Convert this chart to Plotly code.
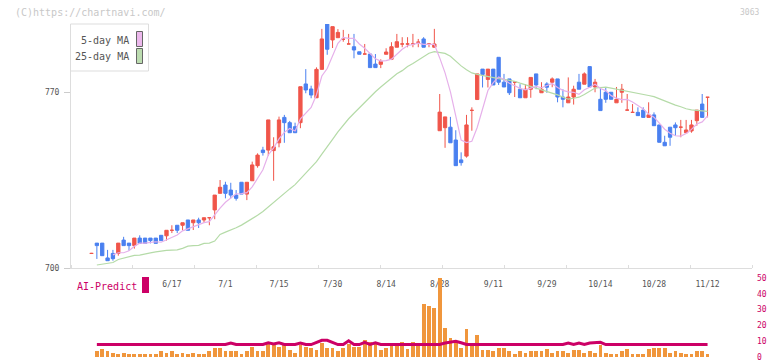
import numpy as np
import pandas as pd
import plotly.graph_objects as go

# ---------------- data ----------------
opens = [705.8, 709.9, 709.9, 704.0, 705.8, 705.8, 711.1, 709.9, 708.9, 711.9,
         711.9, 711.9, 711.9, 713.0, 712.8, 715.0, 717.0, 717.0, 719.1, 718.0,
         719.1, 719.1, 720.0, 723.1, 729.7, 733.0, 731.0, 729.0, 734.1, 729.4,
         734.7, 740.7, 746.9, 746.9, 746.7, 749.8, 759.9, 757.8, 756.2, 757.8,
         773.2, 771.2, 767.7, 779.0, 797.0, 790.7, 791.6, 791.0, 789.1, 788.0,
         786.0, 785.1, 785.1, 781.1, 781.0, 785.0, 783.0, 787.8, 789.1, 789.1,
         789.1, 789.8, 791.1, 789.1, 787.8, 754.6, 755.8, 756.0, 750.9, 743.0,
         744.5, 762.7, 767.0, 779.1, 775.0, 779.1, 783.8, 773.9, 775.2, 773.9,
         771.1, 767.7, 771.1, 777.2, 769.7, 773.2, 773.9, 775.2, 768.0, 765.7,
         768.0, 773.9, 773.1, 780.1, 772.0, 767.1, 769.9, 769.9, 765.7, 769.9,
         762.8, 761.9, 761.9, 762.8, 759.9, 760.9, 756.9, 750.0, 756.0, 756.9,
         756.0, 753.8, 754.5, 758.6, 765.2, 767.9]
highs = [706.0, 709.9, 709.9, 707.2, 707.2, 709.9, 712.4, 709.9, 711.9, 713.0,
         711.9, 711.9, 711.9, 713.0, 715.0, 717.0, 717.0, 718.0, 719.1, 719.1,
         720.0, 720.0, 720.0, 729.0, 735.0, 734.3, 733.9, 731.0, 734.1, 734.1,
         742.3, 745.6, 748.2, 758.9, 752.0, 760.2, 760.9, 758.5, 757.8, 772.1,
         779.1, 772.5, 779.8, 795.1, 797.0, 796.0, 795.0, 794.7, 793.1, 793.1,
         786.0, 789.1, 785.1, 785.1, 783.0, 787.4, 789.8, 793.1, 791.8, 791.8,
         793.1, 791.1, 791.8, 789.5, 795.1, 769.2, 760.1, 760.1, 754.8, 746.0,
         760.9, 763.9, 777.2, 779.1, 779.1, 779.1, 783.8, 777.2, 775.2, 773.9,
         773.1, 773.1, 775.8, 777.2, 773.9, 773.9, 775.8, 775.2, 771.1, 775.8,
         772.5, 777.2, 777.8, 780.1, 775.2, 772.0, 772.0, 769.9, 772.0, 773.2,
         769.2, 765.2, 763.9, 763.9, 765.9, 761.9, 756.9, 752.6, 756.0, 757.9,
         758.9, 758.9, 758.9, 762.8, 769.2, 767.9]
lows = [705.6, 703.6, 704.9, 702.9, 702.9, 704.9, 708.9, 706.9, 707.7, 709.8,
        709.8, 709.8, 709.8, 710.9, 710.9, 713.9, 713.9, 715.0, 715.0, 715.1,
        715.9, 718.0, 717.0, 719.4, 729.7, 727.7, 727.7, 726.8, 729.4, 727.0,
        734.7, 739.9, 744.7, 744.7, 734.7, 748.0, 749.8, 753.8, 753.8, 755.6,
        769.5, 767.5, 767.7, 779.0, 784.8, 787.5, 791.6, 790.0, 789.1, 783.4,
        785.0, 785.1, 779.7, 779.7, 779.5, 785.0, 782.7, 787.8, 787.8, 787.8,
        787.8, 787.8, 787.8, 787.8, 787.8, 754.6, 747.8, 749.8, 740.7, 740.7,
        743.9, 754.6, 767.0, 771.8, 771.8, 772.8, 772.8, 772.0, 768.8, 768.0,
        767.7, 767.7, 767.7, 771.1, 769.7, 769.7, 771.9, 765.9, 763.9, 765.7,
        765.0, 771.1, 773.1, 772.0, 769.9, 762.6, 765.7, 767.1, 765.7, 765.7,
        762.8, 761.9, 760.6, 759.9, 759.9, 756.6, 750.0, 748.6, 748.6, 752.6,
        752.0, 753.8, 753.8, 756.6, 759.9, 759.9]
closes = [705.8, 708.9, 704.9, 702.9, 703.7, 709.9, 708.9, 708.9, 711.9, 709.8,
          709.8, 710.9, 709.8, 710.9, 715.0, 715.0, 715.0, 718.0, 715.0, 719.1,
          718.0, 720.0, 720.0, 729.0, 732.1, 729.7, 729.0, 727.7, 729.4, 734.1,
          741.0, 744.9, 745.9, 758.9, 748.2, 758.9, 757.8, 753.8, 753.8, 772.1,
          770.8, 768.8, 779.0, 791.1, 787.0, 796.0, 793.7, 791.0, 789.1, 786.7,
          785.0, 785.1, 779.7, 779.7, 782.1, 785.9, 788.0, 790.0, 789.1, 789.1,
          789.1, 789.8, 787.8, 789.1, 789.1, 762.0, 760.1, 749.8, 740.7, 741.9,
          756.9, 762.7, 777.2, 777.0, 779.1, 772.8, 773.9, 772.0, 769.7, 773.9,
          767.7, 771.1, 775.8, 772.8, 771.1, 771.9, 775.2, 768.0, 767.1, 768.0,
          771.1, 771.1, 777.2, 772.0, 773.9, 762.6, 767.1, 767.1, 767.1, 771.1,
          762.8, 761.9, 760.6, 759.9, 760.9, 756.6, 750.0, 748.6, 752.0, 755.8,
          756.0, 754.9, 756.9, 762.8, 759.9, 767.9]
volumes = [0, 3.5, 4.9, 4.1, 2.6, 2.2, 2.8, 2.2, 2.2, 2.2,
           1.6, 2.2, 2.2, 4.1, 2.8, 4.1, 2.2, 2.8, 1.6, 2.8,
           2.2, 2.2, 3.5, 6.0, 6.0, 3.5, 3.5, 3.5, 2.2, 4.1,
           6.6, 4.1, 3.5, 9.7, 9.1, 6.6, 7.9, 4.7, 2.8, 7.9,
           6.6, 6.0, 4.7, 9.1, 6.0, 6.0, 4.1, 6.0, 8.5, 6.6,
           6.6, 11.0, 9.7, 8.5, 4.7, 6.0, 7.0, 7.0, 9.7, 5.3,
           9.7, 9.1, 33.6, 32.2, 31.1, 50.0, 18.6, 12.3, 9.1, 6.0,
           17.9, 7.0, 14.2, 4.7, 4.7, 3.5, 6.0, 6.0, 4.1, 2.2,
           3.5, 2.8, 4.1, 3.5, 3.5, 5.3, 2.8, 4.1, 4.1, 2.8,
           4.7, 4.7, 2.8, 3.5, 2.8, 7.9, 2.8, 2.2, 2.2, 3.5,
           5.3, 2.2, 2.2, 2.2, 5.3, 6.0, 6.0, 6.0, 2.8, 3.5,
           2.8, 1.6, 1.6, 4.1, 3.5, 2.2]
ai_predict = [None, 7.9, 7.9, 7.9, 7.9, 7.9, 7.9, 7.9, 7.9, 7.9,
              7.9, 7.9, 7.9, 7.9, 7.9, 7.9, 7.9, 7.9, 7.9, 7.9,
              7.9, 7.9, 7.9, 7.9, 7.9, 7.9, 8.9, 7.9, 7.9, 7.9,
              7.9, 7.9, 7.9, 9.0, 8.3, 9.0, 7.9, 7.9, 7.9, 8.9,
              7.9, 7.9, 9.2, 10.6, 10.6, 9.3, 7.9, 7.9, 10.3, 7.9,
              7.9, 9.3, 7.9, 9.0, 7.9, 7.9, 7.9, 7.9, 7.9, 7.9,
              7.9, 7.9, 7.9, 7.9, 7.9, 7.9, 8.9, 9.5, 10.0, 9.0,
              7.9, 7.9, 7.9, 7.9, 7.9, 7.9, 7.9, 7.9, 7.9, 7.9,
              7.9, 7.9, 7.9, 7.9, 7.9, 7.9, 7.9, 7.9, 7.9, 8.9,
              7.9, 8.9, 7.9, 8.9, 8.9, 9.3, 7.9, 7.9, 7.9, 7.9,
              7.9, 7.9, 7.9, 7.9, 7.9, 7.9, 7.9, 7.9, 7.9, 7.9,
              7.9, 7.9, 7.9, 7.9, 7.9, 7.9]
# 25-day MA for the first days (needs history before the window)
ma25_head = [None, 701.2, 701.6, 701.8, 702.2, 703.4, 704.0, 704.6, 705.0, 705.1,
             705.4, 706.0, 706.4, 706.8, 707.0, 707.1, 707.2, 707.8, 708.7, 708.9,
             709.0, 709.8, 709.9, 710.7]
tick_labels = ["6/17", "7/1", "7/15", "7/30", "8/14", "8/28", "9/11", "9/29",
               "10/14", "10/28", "11/12"]
price_ticks = [700, 770]
volume_ticks = [0, 10, 20, 30, 40, 50]
jp_holidays = ["2025-07-21", "2025-08-11", "2025-09-15", "2025-09-23",
               "2025-10-13", "2025-11-03"]

# ---------------- derived ----------------
dates = pd.bdate_range("2025-05-27", "2025-11-12")
dates = dates[~dates.isin(pd.to_datetime(jp_holidays))]
date_str = [f"{d.month}/{d.day}" for d in dates]
n = len(closes)
idx = np.arange(n)
tickvals = [date_str.index(t) for t in tick_labels if t in date_str]

cl = pd.Series(closes)
ma5 = cl.rolling(5).mean()
ma25 = cl.rolling(25).mean()
for i, v in enumerate(ma25_head):
    ma25.iloc[i] = np.nan if v is None else v

up = [c >= o for o, c in zip(opens, closes)]
RED = "#f0554a"
BLUE = "#4a80f0"

W, H = 772, 361
px0, px1 = 71, 752          # plot left/right pixel
ptop, pbot = 24, 268         # price panel top/bottom pixel
vtop, vbot = 278, 357        # volume panel
step = 5.357
first_px = 91.5
xr0 = (px0 - first_px) / step
xr1 = (px1 - first_px) / step
grid = np.linspace(xr0, xr1, 12)
pr = [700, 700 + (pbot - ptop) / 2.5143]


def sel(arr, mask):
    return [a for a, m in zip(arr, mask) if m]


fig = go.Figure()

fig.add_trace(go.Scatter(x=idx, y=ma25, mode="lines", line=dict(color="#b5dba8", width=1.2),
                         hoverinfo="skip", xaxis="x", yaxis="y"))
fig.add_trace(go.Scatter(x=idx, y=ma5, mode="lines", line=dict(color="#e6b0ea", width=1.2),
                         hoverinfo="skip", xaxis="x", yaxis="y"))

for mask, col in ((up, RED), ([not u for u in up], BLUE)):
    fig.add_trace(go.Candlestick(
        x=sel(idx, mask), open=sel(opens, mask), high=sel(highs, mask),
        low=sel(lows, mask), close=sel(closes, mask),
        increasing=dict(line=dict(color=col, width=1), fillcolor=col),
        decreasing=dict(line=dict(color=col, width=1), fillcolor=col),
        whiskerwidth=0, xaxis="x", yaxis="y", hoverinfo="skip"))

fig.add_trace(go.Bar(x=idx, y=volumes, marker=dict(color="#f0963c", line=dict(width=0)),
                     width=0.7, xaxis="x2", yaxis="y2", hoverinfo="skip"))
fig.add_trace(go.Scatter(x=idx, y=ai_predict, mode="lines", line=dict(color="#cc0066", width=3),
                         xaxis="x2", yaxis="y2", hoverinfo="skip"))

dom_x = [px0 / W, px1 / W]
font_mono = "DejaVu Sans Mono"
fig.update_layout(
    template="none",
    width=W, height=H, margin=dict(l=0, r=0, t=0, b=0, pad=0),
    paper_bgcolor="white", plot_bgcolor="rgba(0,0,0,0)",
    showlegend=False, boxgap=0.12, bargap=0, hovermode=False,
    font=dict(family=font_mono, size=8, color="#555555"),
    xaxis=dict(domain=dom_x, anchor="y", range=[xr0, xr1], tickmode="array",
               tickvals=tickvals, ticktext=[date_str[i] for i in tickvals],
               ticks="", showline=True, linecolor="#dddddd", linewidth=1,
               showgrid=False, zeroline=False, rangeslider=dict(visible=False),
               automargin=False, ticklabeloverflow="allow",
               ticklabelstandoff=8, tickfont=dict(size=8, color="#555555"),
               minor=dict(tickmode="array", tickvals=list(grid), ticks="inside",
                          ticklen=3, tickcolor="#dddddd", showgrid=False)),
    xaxis3=dict(overlaying="x", anchor="y", range=[xr0, xr1], tickmode="array",
                tickvals=list(grid), ticks="outside", ticklen=5, tickcolor="#dddddd",
                automargin=False,
                showticklabels=False, showline=False, showgrid=False, zeroline=False),
    yaxis=dict(domain=[1 - pbot / H, 1 - ptop / H], anchor="x", range=pr,
               tickmode="array", tickvals=price_ticks, ticks="outside", ticklen=6,
               tickcolor="#cccccc", showline=True, linecolor="#dddddd", linewidth=1,
               showgrid=False, zeroline=False, ticklabelstandoff=3, automargin=False,
               ticklabeloverflow="allow", tickfont=dict(size=8, color="#555555")),
    xaxis2=dict(domain=dom_x, anchor="y2", matches="x", showticklabels=False,
                ticks="", showline=False, showgrid=False, zeroline=False,
                automargin=False),
    yaxis2=dict(domain=[1 - vbot / H, 1 - vtop / H], anchor="x2", range=[0, 50],
                side="right", tickmode="array", tickvals=volume_ticks, ticks="",
                showline=False, showgrid=False, zeroline=False, ticklabelstandoff=4,
                automargin=False, ticklabeloverflow="allow",
                tickfont=dict(size=8, color="#cc0066")),
)


def py(p):
    return 1 - p / H


def pxx(p):
    return p / W


shapes = [
    dict(type="rect", xref="paper", yref="paper", x0=pxx(70.5), x1=pxx(148.5),
         y0=py(71), y1=py(24), line=dict(color="#dddddd", width=1), fillcolor="white"),
    dict(type="rect", xref="paper", yref="paper", x0=pxx(136.5), x1=pxx(142.5),
         y0=py(46.5), y1=py(31.5), line=dict(color="#666666", width=1), fillcolor="#ecb8ec"),
    dict(type="rect", xref="paper", yref="paper", x0=pxx(136.5), x1=pxx(142.5),
         y0=py(63.5), y1=py(48.5), line=dict(color="#666666", width=1), fillcolor="#bcdcb0"),
    dict(type="rect", xref="paper", yref="paper", x0=pxx(142), x1=pxx(149),
         y0=py(293), y1=py(277), line=dict(width=0), fillcolor="#cc0066"),
]
fig.update_layout(shapes=shapes)

ann = [
    dict(text="5-day MA", x=pxx(131), y=py(40.5), xanchor="right", yanchor="middle",
         font=dict(size=10, color="#555555")),
    dict(text="25-day MA", x=pxx(131), y=py(56.5), xanchor="right", yanchor="middle",
         font=dict(size=10, color="#555555")),
    dict(text="(C)https://chartnavi.com/", x=pxx(13), y=py(12), xanchor="left",
         yanchor="middle", font=dict(size=10, color="#c8c8c8")),
    dict(text="3063", x=pxx(761), y=py(12), xanchor="right", yanchor="middle",
         font=dict(size=8, color="#c8c8c8")),
    dict(text="AI-Predict", x=pxx(75), y=py(286), xanchor="left", yanchor="middle",
         font=dict(size=10, color="#cc0066")),
]
for a in ann:
    a.update(xref="paper", yref="paper", showarrow=False)
fig.update_layout(annotations=ann)

fig.write_html("out.html", config={"displayModeBar": False, "staticPlot": True},
               post_script="document.body.style.margin='0';document.body.style.overflow='hidden';")
